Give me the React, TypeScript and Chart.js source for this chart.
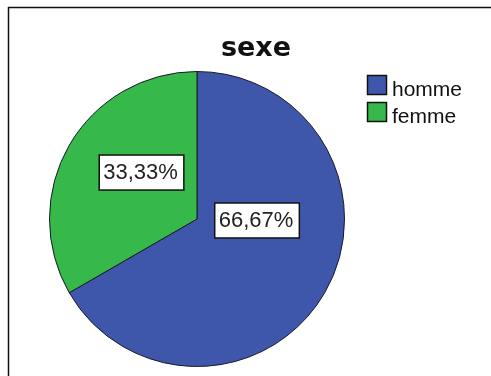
import React, { useEffect, useRef } from "react";
import { Chart, registerables } from "chart.js";

Chart.register(...registerables);

const chartTitle = "sexe";
const categories = ["homme", "femme"];
const values = [66.67, 33.33];
const percentLabels = ["66,67%", "33,33%"];
const sliceColors = ["#3e57ab", "#36b84b"];
// label anchors relative to pie centre, as fractions of the radius
const labelAnchors: [number, number][] = [
  [0.407, 0.01],
  [-0.376, -0.315],
];

const FONT = "'Liberation Sans', Arial, sans-serif";

const decorPlugin = {
  id: "decor",
  beforeDraw(chart: any) {
    const ctx = chart.ctx;
    ctx.save();
    ctx.fillStyle = "#ffffff";
    ctx.fillRect(0, 0, chart.width, chart.height);
    ctx.strokeStyle = "#111111";
    ctx.lineWidth = 1.5;
    ctx.beginPath();
    ctx.moveTo(8.5, chart.height);
    ctx.lineTo(8.5, 7.5);
    ctx.lineTo(chart.width, 7.5);
    ctx.stroke();
    ctx.restore();
  },
  afterDraw(chart: any) {
    const ctx = chart.ctx;
    ctx.save();
    // title
    ctx.fillStyle = "#111111";
    ctx.font = `bold 27px 'DejaVu Sans', sans-serif`;
    ctx.textAlign = "center";
    ctx.textBaseline = "alphabetic";
    ctx.fillText(chartTitle, 256, 56);

    // legend
    ctx.font = `21px ${FONT}`;
    ctx.textAlign = "left";
    ctx.textBaseline = "alphabetic";
    categories.forEach((c, i) => {
      const y = 75 + i * 27;
      ctx.fillStyle = sliceColors[i];
      ctx.fillRect(367, y, 20, 20);
      ctx.strokeStyle = "#111111";
      ctx.lineWidth = 1.5;
      ctx.strokeRect(367.5, y + 0.5, 19, 19);
      ctx.fillStyle = "#111111";
      ctx.fillText(c, 392, y + 21);
    });

    // value labels
    const meta = chart.getDatasetMeta(0);
    ctx.font = `22px ${FONT}`;
    ctx.textAlign = "center";
    ctx.textBaseline = "middle";
    meta.data.forEach((arc: any, i: number) => {
      const r = arc.outerRadius;
      const cx = arc.x + labelAnchors[i][0] * r;
      const cy = arc.y + labelAnchors[i][1] * r;
      const tw = ctx.measureText(percentLabels[i]).width;
      const w = tw + 10;
      const h = 35;
      ctx.fillStyle = "#ffffff";
      ctx.fillRect(cx - w / 2, cy - h / 2, w, h);
      ctx.strokeStyle = "#111111";
      ctx.lineWidth = 1.5;
      ctx.strokeRect(cx - w / 2, cy - h / 2, w, h);
      ctx.fillStyle = "#222222";
      ctx.fillText(percentLabels[i], cx - 1, cy);
    });
    ctx.restore();
  },
};

export default function App() {
  const ref = useRef<HTMLCanvasElement>(null);
  useEffect(() => {
    document.body.style.margin = "0";
    const chart = new Chart(ref.current!, {
      type: "pie",
      data: {
        labels: categories,
        datasets: [
          {
            data: values,
            backgroundColor: sliceColors,
            borderColor: "#1a1a2a",
            borderWidth: 1,
          },
        ],
      },
      options: {
        responsive: false,
        animation: false,
        layout: { padding: { left: 49, top: 71, right: 146, bottom: 9 } },
        plugins: {
          legend: { display: false },
          title: { display: false },
          tooltip: { enabled: false },
        },
      },
      plugins: [decorPlugin],
    });
    return () => chart.destroy();
  }, []);
  return (
    <div style={{ width: 491, height: 376, overflow: "hidden" }}>
      <canvas ref={ref} width={491} height={376} style={{ display: "block" }} />
    </div>
  );
}
